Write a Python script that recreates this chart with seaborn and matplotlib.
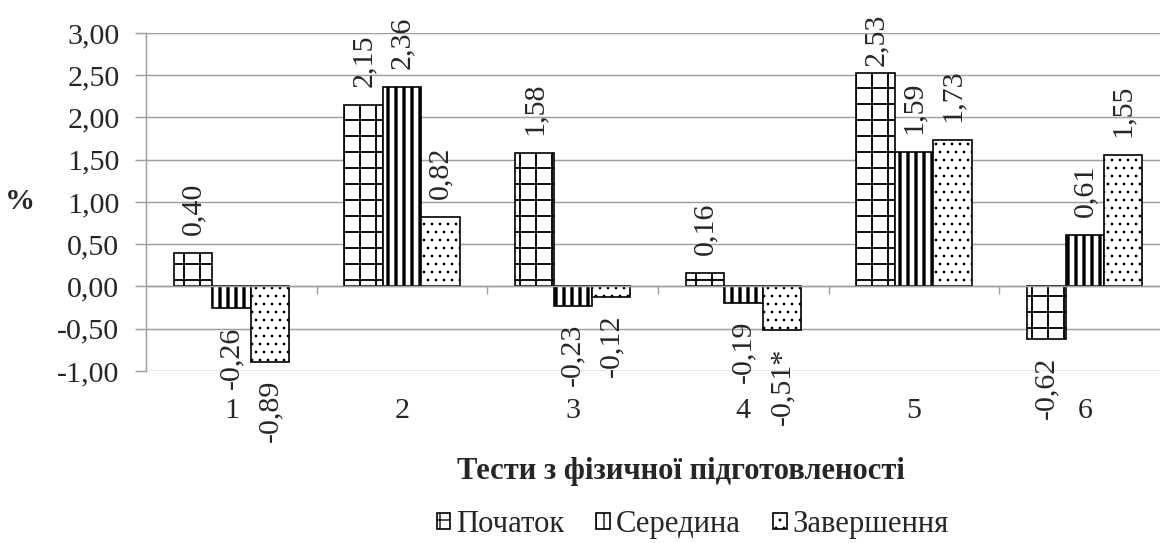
import numpy as np
import pandas as pd
import matplotlib
matplotlib.use("Agg")
import matplotlib.pyplot as plt
from matplotlib.ticker import FuncFormatter, FixedLocator
import seaborn as sns

# values (%)
tests = ["1", "2", "3", "4", "5", "6"]
stages = ["Початок", "Середина", "Завершення"]
start = [0.40, 2.15, 1.58, 0.16, 2.53, -0.62]
middle = [-0.26, 2.36, -0.23, -0.19, 1.59, 0.61]
finish = [-0.89, 0.82, -0.12, -0.51, 1.73, 1.55]
marks = {"Завершення": {3: "*"}}  # significance mark after a value
hatches = ["+", "||", ".."]
hatch_lw = [1.4, 2.5, 0.9]

df = pd.DataFrame({
    "test": tests * 3,
    "stage": np.repeat(stages, len(tests)),
    "value": start + middle + finish,
})


def comma(v, pos=None):
    return f"{v:.2f}".replace(".", ",")


sns.set_style("white")
plt.rcParams["font.family"] = ["Liberation Serif", "DejaVu Serif"]
plt.rcParams["hatch.linewidth"] = 1.0

DPI = 96
fig = plt.figure(figsize=(1160 / DPI, 543 / DPI), dpi=DPI)
ax = fig.add_axes([0.1259, 0.3168, 0.8828, 0.6225])

sns.barplot(data=df, x="test", y="value", hue="stage", palette=["white"] * 3,
            saturation=1, edgecolor="black", linewidth=1.25, width=0.675,
            errorbar=None, ax=ax)
ax.get_legend().remove()

fs = 22.5
for i, cont in enumerate(ax.containers):
    for p in cont.patches:
        p.set_hatch(hatches[i])
        if hasattr(p, "set_hatch_linewidth"):
            p.set_hatch_linewidth(hatch_lw[i])
    stage = stages[i]
    vals = df[df.stage == stage]["value"].tolist()
    labels = [comma(v) + marks.get(stage, {}).get(j, "") for j, v in enumerate(vals)]
    anns = ax.bar_label(cont, labels=labels, rotation=90, padding=13.5, fontsize=fs)
    # label of the tallest bar is pulled down to stay inside the chart
    for a, v in zip(anns, vals):
        if v > 2.45:
            a.xyann = (0, 5)

ax.set_xlim(-0.5, 5.5)
ax.set_ylim(-1.0, 3.0)
ax.yaxis.set_major_locator(FixedLocator(np.arange(-1.0, 3.01, 0.5)))
ax.yaxis.set_major_formatter(FuncFormatter(comma))
ax.set_axisbelow(True)
ax.grid(axis="y", color="#a0a0a0", linewidth=1.1)

for s in ["top", "right"]:
    ax.spines[s].set_visible(False)
ax.spines["left"].set_color("#a0a0a0")
ax.spines["left"].set_linewidth(1.1)
ax.spines["bottom"].set_position(("data", 0))
ax.spines["bottom"].set_color("#a0a0a0")
ax.spines["bottom"].set_linewidth(1.1)

ax.tick_params(axis="y", left=True, length=8, width=1.1, color="#a0a0a0",
               pad=12, labelsize=fs)
ax.tick_params(axis="x", which="major", length=0, pad=84, labelsize=fs)
ax.set_xticks(np.arange(0.5, 5.0, 1.0), minor=True)
ax.tick_params(axis="x", which="minor", bottom=True, length=6, width=1.1,
               color="#a0a0a0")

ax.set_xlabel("Тести з фізичної підготовленості", fontsize=23, fontweight="bold")
ax.xaxis.set_label_coords(0.522, -0.255)
ax.set_ylabel("%", fontsize=fs, fontweight="bold", rotation=0, va="center", ha="center")
ax.yaxis.set_label_coords(-0.123, 0.5)

fig.legend(ax.containers, stages, loc="center", bbox_to_anchor=(0.597, 0.034),
           ncol=3, frameon=False, fontsize=23, handlelength=0.45,
           handleheight=0.45, handletextpad=0.18, columnspacing=1.05)

fig.savefig("out.png", dpi=DPI)
